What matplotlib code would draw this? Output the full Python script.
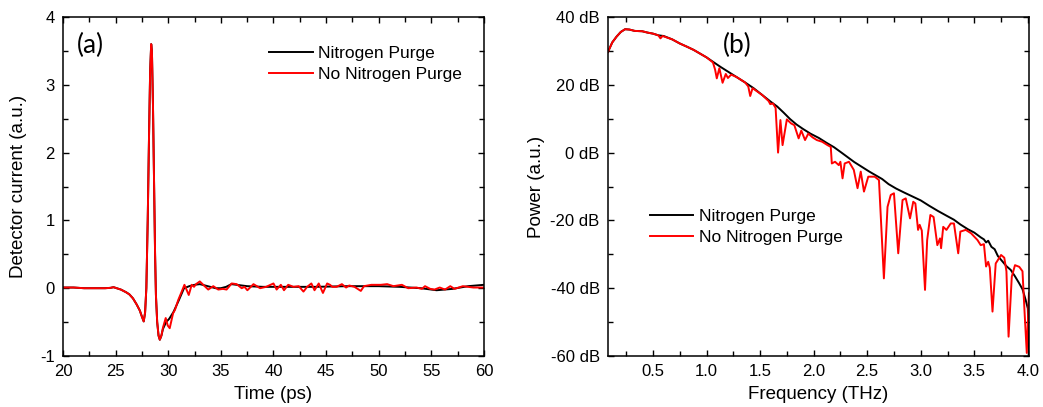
import matplotlib
matplotlib.use("Agg")
import matplotlib.pyplot as plt
from matplotlib.ticker import MultipleLocator

plt.rcParams["font.family"] = ["Liberation Sans", "DejaVu Sans"]
plt.rcParams["axes.unicode_minus"] = False

# (a) time domain, ps / a.u.
t_purge = [20, 21, 22, 23, 24, 24.5, 24.8, 25.1, 25.5, 26.0, 26.3, 26.65, 27.0, 27.3,
           27.5, 27.67, 27.8, 27.92, 28.05, 28.17, 28.28, 28.38, 28.45, 28.55, 28.65,
           28.75, 28.83, 28.95, 29.08, 29.2, 29.35, 29.5, 29.8, 30.1, 30.5, 31.0, 31.5,
           32.0, 32.5, 33.0, 33.5, 34.0, 34.5, 35.0, 35.5, 36.0, 36.5, 37.5, 39.0, 41.0,
           44.0, 47.0, 50.0, 52.0, 54.0, 55.5, 57.0, 58.5, 60.0]
i_purge = [0.01, 0.01, 0.0, 0.0, 0.0, 0.005, 0.015, 0.0, -0.02, -0.06, -0.09, -0.15,
           -0.24, -0.33, -0.42, -0.49, -0.36, 0.0, 1.0, 2.2, 3.2, 3.6, 3.5, 2.7, 1.6,
           0.5, -0.1, -0.5, -0.7, -0.76, -0.7, -0.6, -0.5, -0.45, -0.35, -0.18, 0.0,
           0.03, 0.05, 0.06, 0.04, 0.02, 0.0, 0.0, 0.02, 0.06, 0.05, 0.03, 0.02, 0.02,
           0.02, 0.03, 0.03, 0.02, 0.0, -0.03, -0.01, 0.03, 0.05]

t_nopurge = [20, 21, 22, 23, 24, 24.5, 24.8, 25.1, 25.5, 26.0, 26.3, 26.65, 27.0, 27.3,
             27.5, 27.67, 27.8, 27.92, 28.05, 28.17, 28.28, 28.38, 28.45, 28.55, 28.65,
             28.75, 28.83, 28.95, 29.08, 29.2, 29.35, 29.5, 29.76, 29.95, 30.14, 30.46,
             30.64, 30.96, 31.28, 31.54, 31.76, 31.95, 32.23, 32.45, 32.64, 33.0, 33.33,
             33.8, 34.28, 34.75, 35.2, 35.54, 36.03, 36.5, 36.98, 37.25, 37.52, 38.1,
             38.73, 39.3, 40.0, 40.3, 40.7, 41.0, 41.4, 41.9, 42.4, 42.85, 43.2, 43.6,
             43.9, 44.3, 44.7, 45.1, 45.37, 45.6, 46.0, 46.5, 46.9, 47.2, 47.7, 48.3,
             48.6, 49.3, 50.2, 50.8, 51.4, 52.2, 52.8, 53.6, 54.1, 54.4, 54.9, 55.3,
             55.8, 56.3, 56.8, 57.2, 58.0, 59.0, 59.8, 60.0]
i_nopurge = [0.01, 0.01, 0.0, 0.0, 0.0, 0.005, 0.015, 0.0, -0.02, -0.06, -0.09, -0.15,
             -0.24, -0.33, -0.42, -0.49, -0.36, 0.0, 1.0, 2.2, 3.2, 3.6, 3.5, 2.7, 1.6,
             0.5, -0.1, -0.5, -0.7, -0.76, -0.7, -0.58, -0.44, -0.55, -0.59, -0.37,
             -0.32, -0.17, -0.05, 0.05, -0.03, -0.1, 0.05, 0.02, 0.06, 0.1, 0.05,
             -0.02, 0.03, -0.02, -0.01, -0.02, 0.07, 0.06, 0.0, 0.02, -0.03, 0.06,
             0.0, 0.02, 0.07, -0.02, 0.05, -0.03, 0.05, 0.02, 0.03, -0.05, 0.02, 0.07,
             -0.03, 0.07, -0.07, 0.07, 0.05, 0.02, 0.02, 0.06, 0.01, 0.04, 0.02, -0.04,
             0.03, 0.05, 0.05, 0.06, 0.03, 0.05, 0.0, 0.01, -0.01, 0.03, -0.01, -0.02,
             0.01, -0.02, 0.03, -0.01, 0.03, 0.01, 0.01, 0.01]

# (b) spectrum, THz / dB
f_purge = [0.08, 0.12, 0.16, 0.20, 0.24, 0.28, 0.33, 0.40, 0.45, 0.50, 0.55, 0.60,
           0.68, 0.75, 0.82, 0.88, 0.94, 1.00, 1.06, 1.13, 1.20, 1.28, 1.36, 1.44,
           1.52, 1.60, 1.66, 1.72, 1.78, 1.84, 1.90, 1.97, 2.05, 2.12, 2.19, 2.26,
           2.32, 2.38, 2.45, 2.52, 2.58, 2.64, 2.70, 2.77, 2.84, 2.92, 3.00, 3.08,
           3.16, 3.24, 3.31, 3.37, 3.44, 3.50, 3.56, 3.59, 3.61, 3.63, 3.66, 3.69,
           3.72, 3.76, 3.80, 3.84, 3.88, 3.92, 3.95, 3.98, 4.00, 4.01]
p_purge = [29.7, 32.5, 34.2, 35.6, 36.4, 36.3, 35.9, 35.8, 35.4, 35.1, 34.6, 34.4,
           33.4, 32.2, 31.2, 30.3, 29.2, 28.1, 26.8, 25.3, 23.9, 22.3, 20.7, 19.0,
           17.0, 15.0, 13.6, 11.8, 9.9, 8.3, 7.0, 5.6, 4.3, 2.9, 1.6, 0.0,
           -1.4, -2.8, -4.2, -5.6, -6.7, -7.8, -9.3, -10.6, -11.7, -12.9, -14.1, -15.7,
           -17.2, -18.6, -19.8, -21.2, -22.6, -23.6, -25.0, -25.6, -26.5, -26.0, -27.8,
           -28.5, -30.5, -32.0, -33.5, -34.6, -36.5, -38.6, -40.3, -43.5, -46.0, -60.0]

f_nopurge = [0.08, 0.12, 0.16, 0.20, 0.24, 0.28, 0.33, 0.40, 0.45, 0.50, 0.55, 0.57,
             0.59, 0.68, 0.75, 0.82, 0.88, 0.94, 1.00, 1.06, 1.08, 1.096, 1.12, 1.15,
             1.18, 1.20, 1.23, 1.28, 1.36, 1.39, 1.408, 1.43, 1.52, 1.58, 1.595, 1.62,
             1.645, 1.668, 1.69, 1.71, 1.75, 1.79, 1.82, 1.86, 1.885, 1.92, 1.95, 1.99,
             2.03, 2.08, 2.13, 2.16, 2.17, 2.20, 2.235, 2.25, 2.27, 2.29, 2.33, 2.375,
             2.41, 2.44, 2.47, 2.51, 2.57, 2.61, 2.656, 2.69, 2.72, 2.75, 2.79, 2.83,
             2.86, 2.90, 2.93, 2.95, 2.975, 2.99, 3.01, 3.04, 3.06, 3.09, 3.12, 3.155,
             3.18, 3.19, 3.21, 3.24, 3.28, 3.31, 3.35, 3.37, 3.42, 3.47, 3.53, 3.56,
             3.59, 3.61, 3.63, 3.645, 3.67, 3.70, 3.75, 3.78, 3.80, 3.82, 3.85, 3.88,
             3.92, 3.95, 3.97, 3.99, 4.01]
p_nopurge = [29.7, 32.5, 34.2, 35.6, 36.4, 36.3, 35.9, 35.8, 35.4, 35.1, 34.6, 33.7,
             34.4, 33.4, 32.2, 31.2, 30.3, 29.2, 28.1, 26.6, 24.5, 21.9, 24.9, 20.6,
             23.2, 22.0, 23.0, 22.3, 20.7, 19.5, 16.7, 19.0, 17.0, 15.2, 14.3, 14.5,
             13.2, 0.0, 9.6, 2.2, 9.8, 8.6, 8.1, 4.2, 6.5, 3.7, 5.6, 4.5,
             3.7, 3.2, 2.2, 1.7, -3.2, -2.7, -3.7, -2.7, -7.6, -3.2, -2.7, -5.1,
             -10.5, -5.6, -11.5, -7.1, -7.1, -8.1, -37.1, -16.0, -12.5, -12.0, -29.7, -14.0,
             -13.5, -19.4, -14.5, -15.0, -22.8, -21.3, -23.0, -40.5, -25.8, -18.4, -19.0, -27.3,
             -25.3, -28.2, -21.9, -22.8, -20.9, -20.9, -29.7, -23.3, -22.8, -23.8, -25.8, -27.3,
             -27.0, -33.6, -32.2, -34.0, -46.9, -32.7, -30.2, -31.0, -35.0, -54.3, -36.6, -33.2,
             -33.7, -35.0, -47.4, -59.1, -41.5]

db_ticks = [-60, -40, -20, 0, 20, 40]
db_labels = [f"{v} dB" for v in db_ticks]

fig = plt.figure(figsize=(10.43, 4.07), dpi=100)
ax1 = fig.add_axes([0.0604, 0.1253, 0.4036, 0.8329])
ax2 = fig.add_axes([0.5829, 0.1253, 0.4036, 0.8329])

lw = 1.4
ax1.plot(t_purge, i_purge, color="black", lw=lw, label="Nitrogen Purge")
ax1.plot(t_nopurge, i_nopurge, color="#ff0000", lw=lw, label="No Nitrogen Purge")
ax1.set_xlim(20, 60)
ax1.set_ylim(-1, 4)
ax1.xaxis.set_major_locator(MultipleLocator(5))
ax1.xaxis.set_minor_locator(MultipleLocator(2.5))
ax1.yaxis.set_major_locator(MultipleLocator(1))
ax1.yaxis.set_minor_locator(MultipleLocator(0.5))
ax1.set_xlabel("Time (ps)", fontsize=13.5, labelpad=5)
ax1.set_ylabel("Detector current (a.u.)", fontsize=13.5, labelpad=9)
ax1.text(0.033, 0.917, "(a)", transform=ax1.transAxes, fontsize=19,
         family=["Lato", "DejaVu Sans"], va="center", ha="left")
ax1.legend(loc="upper left", bbox_to_anchor=(0.49, 0.915), frameon=False,
           fontsize=12.5, handlelength=2.5, handletextpad=0.3, labelspacing=0.35,
           borderpad=0, borderaxespad=0)

ax2.plot(f_purge, p_purge, color="black", lw=lw, label="Nitrogen Purge")
ax2.plot(f_nopurge, p_nopurge, color="#ff0000", lw=lw, label="No Nitrogen Purge")
ax2.set_xlim(0.08, 4.01)
ax2.set_ylim(-60, 40)
ax2.xaxis.set_major_locator(MultipleLocator(0.5))
ax2.xaxis.set_minor_locator(MultipleLocator(0.25))
ax2.set_yticks(db_ticks)
ax2.set_yticklabels(db_labels)
ax2.yaxis.set_minor_locator(MultipleLocator(10))
ax2.set_xlabel("Frequency (THz)", fontsize=13.5, labelpad=5)
ax2.set_ylabel("Power (a.u.)", fontsize=13.5, labelpad=4)
ax2.text(0.273, 0.917, "(b)", transform=ax2.transAxes, fontsize=19,
         family=["Lato", "DejaVu Sans"], va="center", ha="left")
ax2.legend(loc="upper left", bbox_to_anchor=(0.1, 0.435), frameon=False,
           fontsize=12.5, handlelength=2.5, handletextpad=0.3, labelspacing=0.35,
           borderpad=0, borderaxespad=0)

for ax in (ax1, ax2):
    ax.tick_params(which="both", direction="in", top=True, right=True,
                   labelsize=12, width=1, pad=6)
    ax.tick_params(which="major", length=4.5)
    ax.tick_params(which="minor", length=3.5)
    for s in ax.spines.values():
        s.set_linewidth(1.1)

fig.savefig("out.png", dpi=100)
